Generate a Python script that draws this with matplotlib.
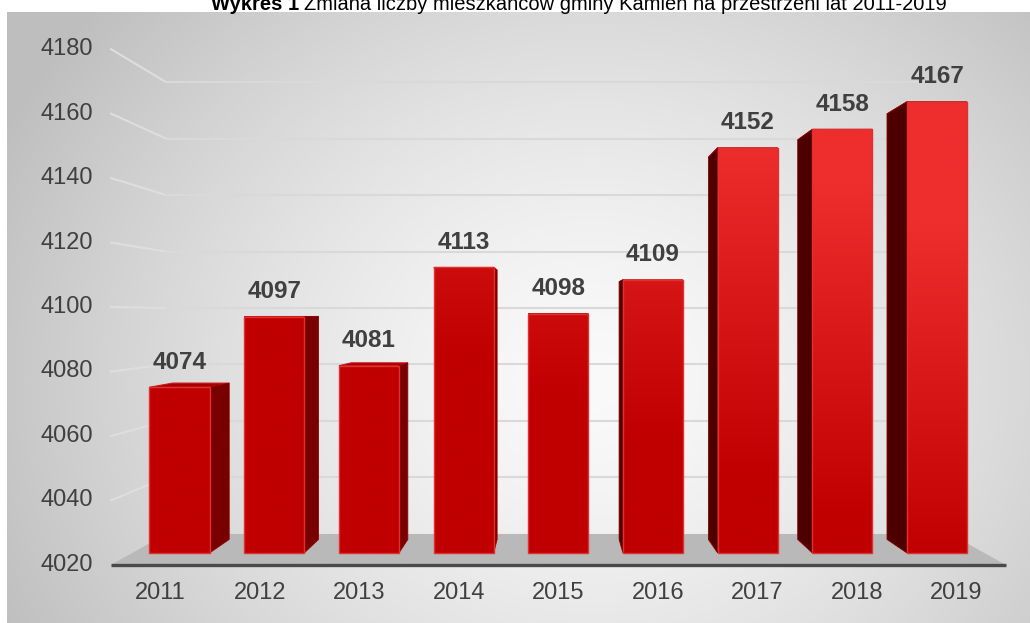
import numpy as np
import matplotlib
matplotlib.use('Agg')
import matplotlib.pyplot as plt
from matplotlib.patches import Polygon, Rectangle

# population of the commune, 2011-2019
years = ['2011', '2012', '2013', '2014', '2015', '2016', '2017', '2018', '2019']
population = [4074, 4097, 4081, 4113, 4098, 4109, 4152, 4158, 4167]
y_ticks = [4020, 4040, 4060, 4080, 4100, 4120, 4140, 4160, 4180]

W, H = 1030, 623
plt.rcParams['font.family'] = ['Liberation Sans', 'DejaVu Sans']
fig = plt.figure(figsize=(W / 100, H / 100), dpi=100)

# background with radial grey gradient (pixel coords)
bg = fig.add_axes([0, 0, 1, 1])
gx, gy = np.meshgrid(np.arange(7, W), np.arange(12, H))
r = np.sqrt(((gx - 590) / 640.0) ** 2 + ((gy - 380) / 560.0) ** 2)
g = np.clip(250 - 58 * r ** 1.4, 190, 250) / 255.0
bg.imshow(np.dstack([g, g, g]), extent=(7, W, H, 12), aspect='auto',
          interpolation='bilinear')
bg.set_xlim(0, W)
bg.set_ylim(H, 0)
bg.axis('off')

# main axes: x = category index, y = value on the plane of the bar fronts
ax = fig.add_axes([0, 0, 1, 1])
ax.patch.set_alpha(0)
ax.axis('off')
step_px, x0_px = 94.7, 179.5
unit_px, base_px = 3.07, 553.0
ymin = y_ticks[0]
xlim = (-x0_px / step_px, (W - x0_px) / step_px)
ylim = (ymin - (H - base_px) / unit_px, ymin + base_px / unit_px)

# vanishing point for the fake 3D look
VX = (555 - x0_px) / step_px
VY = ymin + (base_px - 315) / unit_px


def proj(x, y, t):
    return (x + t * (VX - x), y + t * (VY - y))


T_FRONT, T_BACK, T_BAR = -0.05, 0.08, 0.057
left, right = -0.5, len(years) - 0.5
right_back = right - 0.25

# gridlines on left wall and back wall
for v in y_ticks[1:]:
    a = proj(left, v, T_FRONT)
    b = proj(left, v, T_BACK)
    c = proj(right_back, v, T_BACK)
    ax.plot([a[0], b[0]], [a[1], b[1]], color='#dedede', lw=1.5, zorder=1)
    ax.plot([b[0], c[0]], [b[1], c[1]], color='#d9d9d9', lw=1.5, zorder=1)

# floor
floor = [proj(left, ymin, T_FRONT), proj(right, ymin, T_FRONT),
         proj(right, ymin, T_BACK), proj(left, ymin, T_BACK)]
ax.add_patch(Polygon(floor, closed=True, facecolor='#b9b9b9',
                     edgecolor='none', zorder=2))

# bars
hw = 0.317
c_lo = np.array([0xc0, 0x00, 0x00]) / 255.0
c_hi = np.array([0xee, 0x2d, 0x2d]) / 255.0
for i, v in enumerate(population):
    x0, x1 = i - hw, i + hw
    # top face
    top = [(x0, v), (x1, v), proj(x1, v, T_BAR), proj(x0, v, T_BAR)]
    ax.add_patch(Polygon(top, closed=True, facecolor='#a80000',
                         edgecolor='#c81818', lw=0.8, zorder=3))
    # side face
    if x1 < VX:
        side = [(x1, ymin), (x1, v), proj(x1, v, T_BAR), proj(x1, ymin, T_BAR)]
        ax.add_patch(Polygon(side, closed=True, facecolor='#780000',
                             edgecolor='#9a0000', lw=0.6, zorder=4))
    if x0 > VX:
        side = [(x0, ymin), (x0, v), proj(x0, v, T_BAR), proj(x0, ymin, T_BAR)]
        ax.add_patch(Polygon(side, closed=True, facecolor='#4d0000',
                             edgecolor='#8a0000', lw=0.6, zorder=4))
    # front face with vertical gradient
    vv = np.linspace(v, ymin, 200)
    s = np.clip(0.12 * (i - 4) + (vv - 4070) / 110.0, 0, 1)
    col = c_lo[None, :] + s[:, None] * (c_hi - c_lo)[None, :]
    front = Rectangle((x0, ymin), 2 * hw, v - ymin, facecolor='none',
                      edgecolor='#e03030', lw=1.0, zorder=6)
    ax.add_patch(front)
    im = ax.imshow(col[:, None, :], extent=(x0, x1, ymin, v), aspect='auto',
                   interpolation='bilinear', zorder=5)
    im.set_clip_path(front)
    ax.annotate(str(v), (i, v), xytext=(0, 18), textcoords='offset points',
                ha='center', va='center', fontsize=17.5, fontweight='bold',
                color='#404040', zorder=7)

ax.set_xlim(*xlim)
ax.set_ylim(*ylim)

# category axis line
a = proj(left, ymin, T_FRONT)
b = proj(right, ymin, T_FRONT)
ax.plot([a[0], b[0]], [a[1], b[1]], color='#4a4a4a', lw=2.4,
        solid_capstyle='butt', zorder=8)

# tick labels
for v in y_ticks:
    ax.annotate(str(v), proj(left, v, T_FRONT), xytext=(-13, 0),
                textcoords='offset points', ha='right', va='center',
                fontsize=17, color='#404040')
for i, yr in enumerate(years):
    ax.annotate(yr, proj(i, ymin, T_FRONT), xytext=(0, -20),
                textcoords='offset points', ha='center', va='center',
                fontsize=17, color='#404040')

# title, sitting at the very top as in the source
ty = 1 - 10.0 / H
fig.text(299 / W, ty, 'Wykres 1', ha='right', va='baseline', fontsize=14.5,
         fontweight='bold', color='#000000')
fig.text(304 / W, ty, 'Zmiana liczby mieszkańców gminy Kamień na przestrzeni lat 2011-2019',
         ha='left', va='baseline', fontsize=14.5, color='#000000')

fig.savefig('out.png', dpi=100)
